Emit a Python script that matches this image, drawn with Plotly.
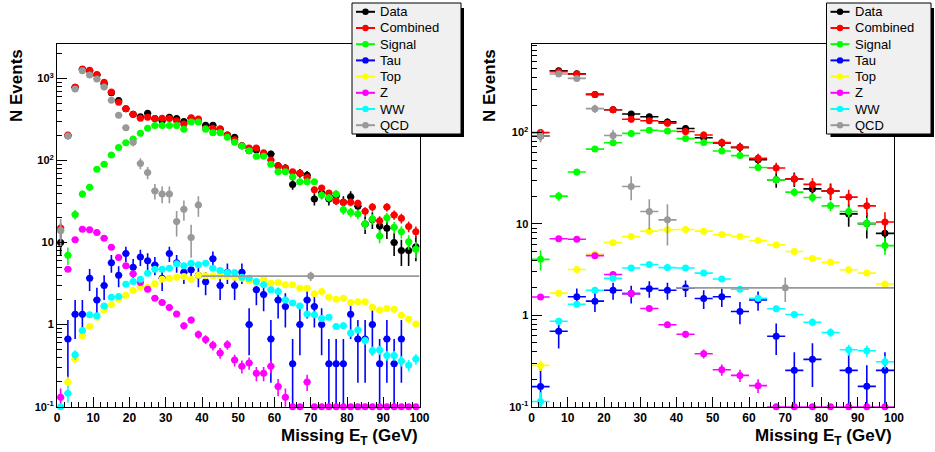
import plotly.graph_objects as go

W, H = 935, 452

# ---------------- data: left panel (2 GeV bins) ----------------
x_left = list(range(1, 100, 2))
data_left = [10, 200, 777, 1280, 1240, 1100, 853, 669, 535, 427,
             364, 341, 375, 323, 305, 335, 323, 297, 326, 305,
             268, 268, 241, 204, 191, 151, 131, 134, 120, 120,
             86, 81, 51, 70, 66, 34, 40, 34, 37, 31,
             36, 27.6, 16.8, 19, 15.9, 14.9, 10, 8.0, 8.0, 8.9]
comb_left = [15, 204, 780, 1300, 1250, 1110, 894, 680, 510, 427,
             364, 326, 335, 323, 326, 323, 305, 278, 330, 320,
             246, 246, 241, 204, 178, 151, 142, 142, 124, 101,
             86, 81, 73, 70, 62, 44, 46, 40, 32, 31,
             31, 30, 24, 27, 18.4, 27, 21.7, 19.7, 15.7, 13.5]
sig_left = [14, 7.0, 22, 39, 47, 78, 90, 116, 144, 164,
            182, 214, 246, 267, 267, 267, 267, 239, 294, 294,
            239, 217, 217, 191, 167, 150, 131, 112, 112, 90,
            73, 73, 63, 55, 55, 55, 38, 35, 39, 25,
            23.3, 22.2, 16.8, 19.3, 12, 20, 15.3, 13.5, 10.2, 8.3]
tau_left = [None, 0.667, 1.333, 1.333, 3.667, 2.0, 3.0, 5.667, 4.0, 7.333,
            5.0, 6.667, 6.0, 5.333, 3.667, 7.333, 5.667, 4.333, 4.667, 4.0,
            3.333, 6.333, 3.0, 4.333, 3.0, 4.333, 1.0, 2.667, 2.333, 0.667,
            2.0, 1.667, 0.333, 1.0, 2.0, 1.667, 1.0, 0.333, 0.333, 0.333,
            1.333, 0.667, 0.667, 1.0, 0.333, 0.667, 0.333, 0.667, None, None]
top_left = [None, 0.2, 0.38, 0.73, 0.95, 1.23, 1.51, 1.74, 2.04, 2.28,
            2.6, 2.86, 2.86, 3.14, 3.57, 3.68, 3.78, 3.86, 3.57, 4.0,
            3.93, 3.93, 3.93, 3.86, 3.78, 3.68, 3.41, 3.26, 3.57, 3.2,
            3.26, 3.05, 3.05, 2.78, 2.78, 2.37, 2.53, 2.16, 2.04, 2.1,
            1.86, 1.9, 1.9, 1.63, 1.51, 1.57, 1.54, 1.3, 1.16, 1.02]
z_left = [0.13, 4.73, 10.8, 14.5, 14.3, 13.2, 11.3, 8.77, 6.56, 5.2,
          4.15, 3.26, 2.7, 2.1, 1.86, 1.62, 1.35, 0.97, 1.14, 0.76,
          0.66, 0.56, 0.45, 0.57, 0.37, 0.31, 0.34, 0.255, 0.255, 0.31,
          0.176, 0.13, 0.1, 0.1, 0.2, 0.1, 0.1, 0.1, 0.1, 0.1,
          0.1, 0.1, 0.1, 0.1, 0.1, 0.1, 0.1, 0.1, 0.1, 0.1]
ww_left = [0.1, 0.146, 0.43, 0.85, 1.32, 1.28, 1.69, 2.16, 2.2, 3.1,
           3.35, 3.57, 4.23, 4.74, 4.74, 4.87, 5.5, 5.2, 5.6, 5.35,
           5.6, 4.87, 4.56, 4.3, 4.3, 3.78, 3.68, 3.35, 3.05, 2.65,
           2.53, 2.0, 1.83, 1.69, 1.35, 1.32, 1.19, 1.23, 0.95, 0.97,
           0.79, 0.86, 0.64, 0.48, 0.49, 0.42, 0.42, 0.36, 0.32, 0.38]
qcd_x_left = [1, 3, 5, 7, 9, 11, 13, 15, 17, 19, 21, 23, 25, 27, 29, 31, 33, 35, 37, 39, 70]
qcd_xerr_left = [1] * 20 + [30]
qcd_left = [14, 198, 740, 1240, 1098, 980, 785, 540, 355, 250,
            166, 92, 71, 42.5, 39, 39, 18, 25.4, 11.5, 28.6, 3.9]
qcd_err_left = [5.3, 20, 38, 50, 47, 44, 40, 33, 27, 22,
                18, 14, 12, 9, 9, 9, 6.2, 7, 5, 8, 0.5]

# ---------------- data: right panel (5 GeV bins) ----------------
x_right = [2.5 + 5 * i for i in range(20)]
data_right = [92, 476, 440, 262, 178, 160, 149, 131, 111, 88,
              77, 69, 50.6, 30.5, 31, 24.2, 23, 12.9, 10.1, 7.9]
comb_right = [100, 465, 438, 262, 178, 140, 135, 127, 103, 94,
              78, 69, 52.3, 41, 31, 27.1, 22.9, 19.7, 15.8, 10.5]
sig_right = [4.1, 20.2, 37, 66, 77.5, 98, 106, 104, 86, 78,
             63, 56, 41.5, 30.4, 22.3, 19.5, 15.8, 13.7, 10.1, 5.8]
tau_right = [0.166, 0.67, 1.6, 1.43, 1.88, 1.73, 1.96, 1.88, 2.0, 1.53,
             1.6, 1.1, 1.47, 0.59, 0.25, 0.33, None, 0.25, 0.167, 0.25]
top_right = [0.283, 1.75, 3.17, 4.7, 6.25, 7.28, 8.35, 8.65, 8.7, 8.35,
             7.65, 7.3, 6.6, 5.9, 5.0, 4.2, 3.8, 3.16, 2.9, 2.2]
z_right = [1.59, 6.9, 6.8, 4.5, 2.8, 1.73, 1.19, 0.79, 0.62, 0.38,
           0.254, 0.22, 0.17, 0.1, 0.1, 0.1, 0.1, 0.1, 0.1, 0.1]
ww_right = [0.114, 0.86, 1.32, 1.88, 2.54, 3.3, 3.6, 3.33, 3.3, 2.9,
            2.5, 1.93, 1.54, 1.18, 1.02, 0.84, 0.65, 0.42, 0.41, 0.31]
qcd_x_right = [2.5, 7.5, 12.5, 17.5, 22.5, 27.5, 32.5, 37.5, 70]
qcd_xerr_right = [2.5] * 8 + [30]
qcd_right = [92, 438, 392, 183, 93, 25.7, 13.7, 11.1, 2.0]
qcd_err_right = [14, 30, 28, 19, 14, 7.5, 5, 5.3, 0.6]

names = ["Data", "Combined", "Signal", "Tau", "Top", "Z", "WW", "QCD"]
colors = ["#000000", "#ff0000", "#00ff00", "#0000ff", "#ffff00", "#ff00ff", "#00ffff", "#999999"]
# per-series Poisson weight used for the error bars (sigma = sqrt(w * value))
w_left = [1.0, 0.35, 0.4, 1 / 3, 0.005, 0.01, 0.008]
w_right = [1.0, 0.8, 0.25, 1 / 12, 0.005, 0.005, 0.008]

FLOOR = 0.1


def errs(vals, w):
    out = []
    for v in vals:
        if v is None or v <= FLOOR:
            out.append(0)
        else:
            out.append((v * w) ** 0.5)
    return out


fig = go.Figure()


def add_series(xs, ys, xerr, yerr, color, xa, ya, noclip):
    fig.add_trace(go.Scatter(
        x=xs, y=ys, mode="markers", xaxis=xa, yaxis=ya, showlegend=False,
        cliponaxis=not noclip,
        marker=dict(color=color, size=7, line=dict(width=0)),
        error_y=dict(type="data", array=yerr, color=color, thickness=1.6, width=0),
        error_x=dict(type="data", array=xerr, color=color, thickness=1.6, width=0),
    ))


left_series = [data_left, comb_left, sig_left, tau_left, top_left, z_left, ww_left]
right_series = [data_right, comb_right, sig_right, tau_right, top_right, z_right, ww_right]
for i in range(7):
    noclip = names[i] in ("Z", "WW", "Top")
    add_series(x_left, left_series[i], [1] * len(x_left), errs(left_series[i], w_left[i]),
               colors[i], "x", "y", noclip)
    add_series(x_right, right_series[i], [2.5] * len(x_right), errs(right_series[i], w_right[i]),
               colors[i], "x2", "y2", noclip)
add_series(qcd_x_left, qcd_left, qcd_xerr_left, qcd_err_left, colors[7], "x", "y", False)
add_series(qcd_x_right, qcd_right, qcd_xerr_right, qcd_err_right, colors[7], "x2", "y2", False)

# ---------------- axes ----------------
def px_x(p):
    return p / W


def px_y(p):
    return (H - p) / H


FONT = "Liberation Sans, Arial, Helvetica, sans-serif"
tickfont = dict(family=FONT, size=12, color="black", weight="bold")

xcommon = dict(range=[0, 100], showgrid=False, zeroline=False, showline=True, mirror=True,
               automargin=False,
               linecolor="black", linewidth=1, ticks="inside", ticklen=10, tickwidth=1,
               tickcolor="black", tickmode="array", tickvals=[0, 10, 20, 30, 40, 50, 60, 70, 80, 90, 100],
               tickfont=tickfont,
               minor=dict(ticks="inside", ticklen=5, tickwidth=1, tickcolor="black", dtick=2, showgrid=False))
ytickvals = [0.1, 1, 10, 100, 1000]
yticktext = ["10<sup>-1</sup>", "1", "10", "10<sup>2</sup>", "10<sup>3</sup>"]
ycommon = dict(type="log", showgrid=False, zeroline=False, showline=True, mirror=True,
               automargin=False,
               linecolor="black", linewidth=1, ticks="inside", ticklen=10, tickwidth=1,
               tickcolor="black", tickmode="array", tickvals=ytickvals, ticktext=yticktext,
               tickfont=dict(family=FONT, size=11, color="black", weight="bold"),
               minor=dict(ticks="inside", ticklen=5, tickwidth=1, tickcolor="black", dtick="D1", showgrid=False))

ybot, ytop = px_y(406.7), px_y(44)
fig.update_layout(
    width=W, height=H, margin=dict(l=0, r=0, t=0, b=0, autoexpand=False),
    paper_bgcolor="white", plot_bgcolor="white", showlegend=False,
    xaxis=dict(domain=[px_x(57), px_x(419.5)], anchor="y", **xcommon),
    yaxis=dict(domain=[ybot, ytop], anchor="x", range=[-1, 3.418], **ycommon),
    xaxis2=dict(domain=[px_x(531.5), px_x(894)], anchor="y2", **xcommon),
    yaxis2=dict(domain=[ybot, ytop], anchor="x2", range=[-1, 2.97], **ycommon),
)

# ---------------- titles ----------------
ann = []
for xt, xr in ((17, 419.5), (490, 894)):
    ann.append(dict(text="<b>N Events</b>", xref="paper", yref="paper", x=px_x(xt), y=px_y(86),
                    textangle=-90, showarrow=False, xanchor="center", yanchor="middle",
                    font=dict(family=FONT, size=17, color="black")))
    ann.append(dict(text="<b>Missing E<sub>T</sub> (GeV)</b>", xref="paper", yref="paper",
                    x=px_x(xr), y=px_y(437), showarrow=False, xanchor="right", yanchor="middle",
                    font=dict(family=FONT, size=17, color="black")))

# ---------------- legends (ROOT TLegend look) ----------------
shapes = []
for (bx0, bx1) in ((352, 461), (826.5, 931)):
    by0, by1 = 3, 134
    # shadow
    shapes.append(dict(type="rect", xref="paper", yref="paper", x0=px_x(bx0 + 4), x1=px_x(bx1 + 3),
                       y0=px_y(by1 + 3), y1=px_y(by0 + 5), fillcolor="black", line=dict(width=0)))
    shapes.append(dict(type="rect", xref="paper", yref="paper", x0=px_x(bx0), x1=px_x(bx1),
                       y0=px_y(by1), y1=px_y(by0), fillcolor="#f0f0f0",
                       line=dict(color="black", width=1)))
    for k, (nm, col) in enumerate(zip(names, colors)):
        yy = 11.8 + 16.2 * k
        shapes.append(dict(type="line", xref="paper", yref="paper", x0=px_x(bx0 + 4), x1=px_x(bx0 + 23),
                           y0=px_y(yy), y1=px_y(yy), line=dict(color=col, width=2)))
        shapes.append(dict(type="circle", xref="paper", yref="paper", xsizemode="pixel", ysizemode="pixel",
                           xanchor=px_x(bx0 + 13.5), yanchor=px_y(yy), x0=-3.2, x1=3.2, y0=-3.2, y1=3.2,
                           fillcolor=col, line=dict(width=0)))
        ann.append(dict(text=nm, xref="paper", yref="paper", x=px_x(bx0 + 26), y=px_y(yy),
                        xanchor="left", yanchor="middle", showarrow=False,
                        font=dict(family=FONT, size=13, color="black")))

fig.update_layout(annotations=ann, shapes=shapes)
fig.write_html("out.html", config={"displayModeBar": False},
               post_script="document.body.style.margin='0px';")
